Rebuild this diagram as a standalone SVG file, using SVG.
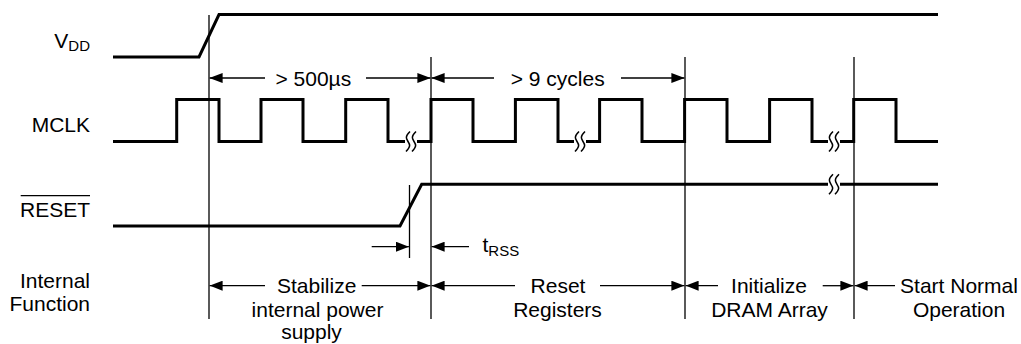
<svg xmlns="http://www.w3.org/2000/svg" width="1021" height="344" viewBox="0 0 1021 344">
<style>
text{font-family:"Liberation Sans",Arial,sans-serif;font-size:21px;fill:#000}
.lbl{text-anchor:end}
.mid{text-anchor:middle}
.sig{fill:none;stroke:#000;stroke-width:3;stroke-linejoin:miter}
.thin{fill:none;stroke:#000;stroke-width:1.3}
.brk{fill:none;stroke:#000;stroke-width:1.5}
.arr{fill:none;stroke:#000;stroke-width:1.3;marker-end:url(#ah)}
</style>
<defs>
<marker id="ah" markerUnits="userSpaceOnUse" markerWidth="13" markerHeight="10" refX="13" refY="5" orient="auto">
<path d="M0,0 L13,5 L0,10 Z" fill="#000"/>
</marker>
<path id="bk" d="M2,-10 C-3,-5 -2,-3 0,0 C2,3 3,5 -2,10"/>
</defs>
<rect width="1021" height="344" fill="#fff"/>

<g id="labels">
<text class="lbl" x="90" y="47.7">V<tspan font-size="15" dy="3.3">DD</tspan></text>
<text class="lbl" x="90" y="132.3">MCLK</text>
<text class="lbl" x="90" y="217.3">RESET</text>
<line class="thin" x1="20.7" y1="195.7" x2="90" y2="195.7"/>
<text class="lbl" x="90" y="288.3">Internal</text>
<text class="lbl" x="90" y="311">Function</text>
</g>

<g id="vdd">
<polyline class="sig" points="113,57 199,57 219,14.5 938,14.5"/>
</g>

<g id="mclk">
<path class="sig" d="M113,141.5 H176.7 V99.5 H219 V141.5 H261 V99.5 H303 V141.5 H345.7 V99.5 H388 V141.5 H405"/>
<path class="sig" d="M417,141.5 H431 V99.5 H473 V141.5 H515.4 V99.5 H558 V141.5 H574"/>
<path class="sig" d="M586,141.5 H599.6 V99.5 H642 V141.5 H684.6 V99.5 H727 V141.5 H769.6 V99.5 H812 V141.5 H828"/>
<path class="sig" d="M840,141.5 H853.7 V99.5 H896 V141.5 H938"/>
<use href="#bk" class="brk" x="408" y="141.5"/>
<use href="#bk" class="brk" x="414" y="141.5"/>
<use href="#bk" class="brk" x="577" y="141.5"/>
<use href="#bk" class="brk" x="583" y="141.5"/>
<use href="#bk" class="brk" x="831" y="141.5"/>
<use href="#bk" class="brk" x="837" y="141.5"/>
</g>

<g id="reset">
<path class="sig" d="M113,226 H400 L421.7,184.3 H828"/>
<path class="sig" d="M840,184.3 H938"/>
<use href="#bk" class="brk" x="831" y="184.3"/>
<use href="#bk" class="brk" x="837" y="184.3"/>
</g>

<g id="markers-lines">
<line class="thin" x1="209" y1="15" x2="209" y2="319"/>
<line class="thin" x1="431" y1="57" x2="431" y2="319"/>
<line class="thin" x1="685" y1="57" x2="685" y2="319"/>
<line class="thin" x1="854" y1="57" x2="854" y2="319"/>
<line class="thin" x1="409.5" y1="185" x2="409.5" y2="258"/>
</g>

<g id="connectors">
<line class="arr" x1="265" y1="78" x2="209.6" y2="78"/>
<line class="arr" x1="366" y1="78" x2="430.4" y2="78"/>
<line class="arr" x1="494" y1="78" x2="431.6" y2="78"/>
<line class="arr" x1="621" y1="78" x2="684.4" y2="78"/>
<line class="arr" x1="371.7" y1="246.7" x2="408.9" y2="246.7"/>
<line class="arr" x1="469" y1="246.7" x2="431.6" y2="246.7"/>
<line class="arr" x1="265" y1="285.7" x2="209.6" y2="285.7"/>
<line class="arr" x1="361.7" y1="285.7" x2="430.4" y2="285.7"/>
<line class="arr" x1="515" y1="285.7" x2="431.6" y2="285.7"/>
<line class="arr" x1="600" y1="285.7" x2="684.4" y2="285.7"/>
<line class="arr" x1="718" y1="285.7" x2="685.6" y2="285.7"/>
<line class="arr" x1="822.7" y1="285.7" x2="853.4" y2="285.7"/>
<line class="arr" x1="895" y1="285.7" x2="854.6" y2="285.7"/>
</g>

<g id="timing-labels">
<text class="mid" x="313.3" y="85.5">&gt; 500µs</text>
<text class="mid" x="557.7" y="85.5">&gt; 9 cycles</text>
<text x="482.5" y="251.7">t<tspan font-size="15" dy="4">RSS</tspan></text>
</g>

<g id="fn-stabilize">
<text class="mid" x="316.7" y="293.3">Stabilize</text>
<text class="mid" x="317.5" y="316.7">internal power</text>
<text class="mid" x="311.5" y="339">supply</text>
</g>
<g id="fn-reset">
<text class="mid" x="558" y="293.3">Reset</text>
<text class="mid" x="557.5" y="316.7">Registers</text>
</g>
<g id="fn-init">
<text class="mid" x="769" y="293.3">Initialize</text>
<text class="mid" x="769.5" y="316.7">DRAM Array</text>
</g>
<g id="fn-normal">
<text class="mid" x="959" y="293.3">Start Normal</text>
<text class="mid" x="959" y="316.7">Operation</text>
</g>
</svg>
